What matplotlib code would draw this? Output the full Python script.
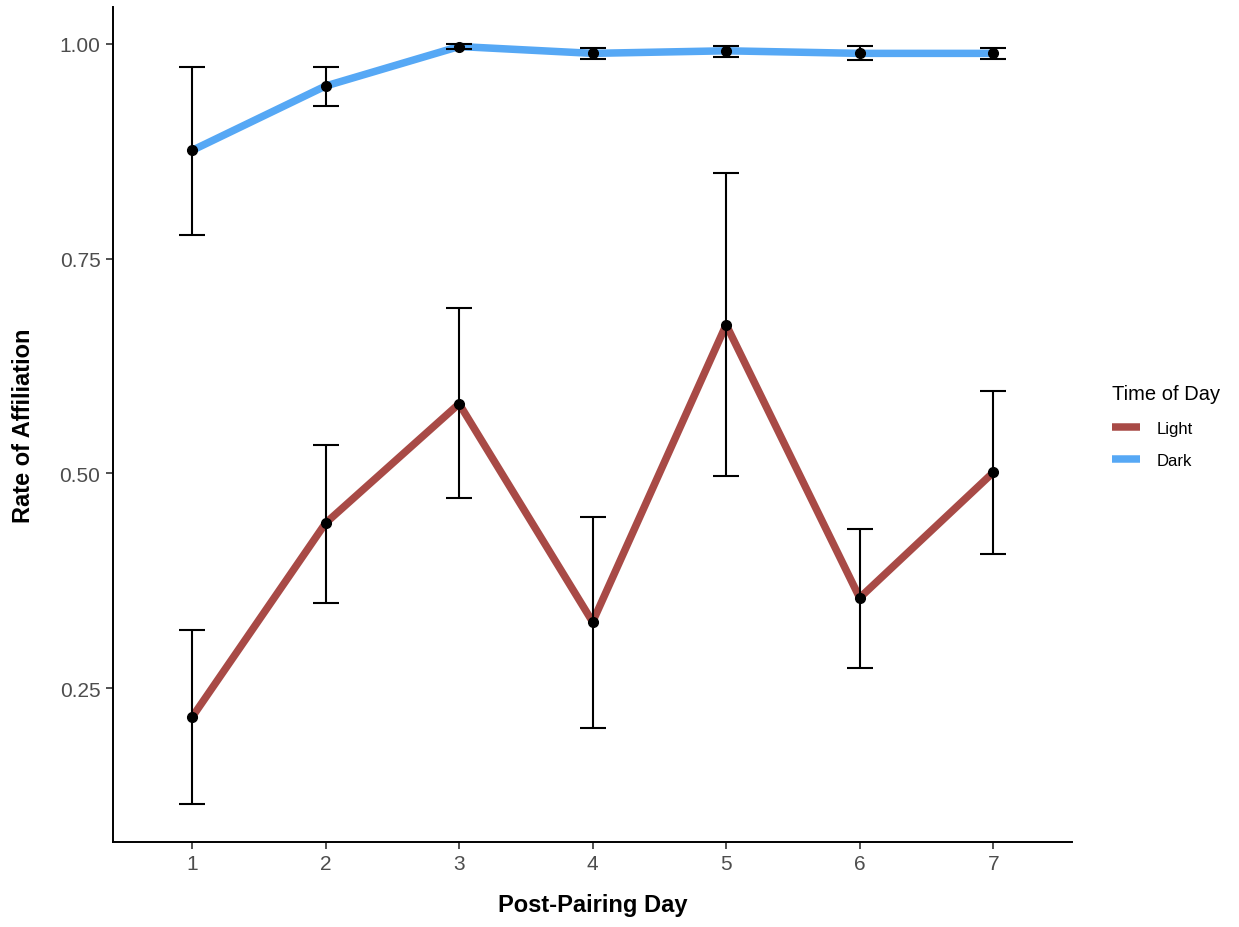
import matplotlib.pyplot as plt
from matplotlib.lines import Line2D

plt.rcParams['font.family'] = ['Liberation Sans', 'DejaVu Sans']

days = [1, 2, 3, 4, 5, 6, 7]

# mean rate of affiliation with error-bar limits, per time of day
light_mean = [0.216, 0.442, 0.581, 0.327, 0.673, 0.355, 0.501]
light_low = [0.115, 0.349, 0.471, 0.203, 0.497, 0.273, 0.406]
light_high = [0.317, 0.533, 0.692, 0.449, 0.850, 0.435, 0.596]

dark_mean = [0.876, 0.951, 0.997, 0.989, 0.992, 0.989, 0.989]
dark_low = [0.778, 0.928, 0.994, 0.983, 0.985, 0.981, 0.983]
dark_high = [0.973, 0.973, 1.000, 0.995, 0.998, 0.998, 0.995]

light_col = '#A84A46'
dark_col = '#56A8F5'

fig = plt.figure(figsize=(12.39, 9.28), dpi=100)
ax = fig.add_axes([113 / 1239, 1 - 843 / 928, (1072 - 113) / 1239, (843 - 8) / 928])

for mean, lo, hi, col in [(light_mean, light_low, light_high, light_col),
                          (dark_mean, dark_low, dark_high, dark_col)]:
    ax.plot(days, mean, color=col, lw=5.4, solid_capstyle='butt', zorder=2)
    yerr = [[m - l for m, l in zip(mean, lo)], [h - m for m, h in zip(mean, hi)]]
    ax.errorbar(days, mean, yerr=yerr, fmt='none', ecolor='black',
                elinewidth=1.5, capsize=9.5, capthick=1.5, zorder=3)
    ax.plot(days, mean, 'o', color='black', ms=7, zorder=4)

ax.set_xlim(0.408, 7.59)
ax.set_ylim(0.0707, 1.043)
ax.set_xticks(days)
ax.set_yticks([0.25, 0.50, 0.75, 1.00])
ax.set_yticklabels(['0.25', '0.50', '0.75', '1.00'])

for s in ['top', 'right']:
    ax.spines[s].set_visible(False)
for s in ['left', 'bottom']:
    ax.spines[s].set_linewidth(1.4)
    ax.spines[s].set_color('black')

ax.tick_params(axis='both', length=5, width=1.2, color='#333333',
               labelcolor='#4D4D4D', labelsize=15, pad=4)

ax.set_xlabel('Post-Pairing Day', fontsize=17, fontweight='bold', labelpad=14)
ax.set_ylabel('Rate of Affiliation', fontsize=17, fontweight='bold', labelpad=18)

handles = [Line2D([], [], color=light_col, lw=5.4, solid_capstyle='butt'),
           Line2D([], [], color=dark_col, lw=5.4, solid_capstyle='butt')]
leg = fig.legend(handles, ['Light', 'Dark'], title='Time of Day',
                 loc='upper left', bbox_to_anchor=(1097 / 1239, 1 - 370 / 928),
                 frameon=False, fontsize=12, title_fontsize=14.5,
                 handlelength=1.7, handletextpad=1.0, labelspacing=1.05)
leg._legend_box.align = 'left'

fig.savefig('out.png', dpi=100)
